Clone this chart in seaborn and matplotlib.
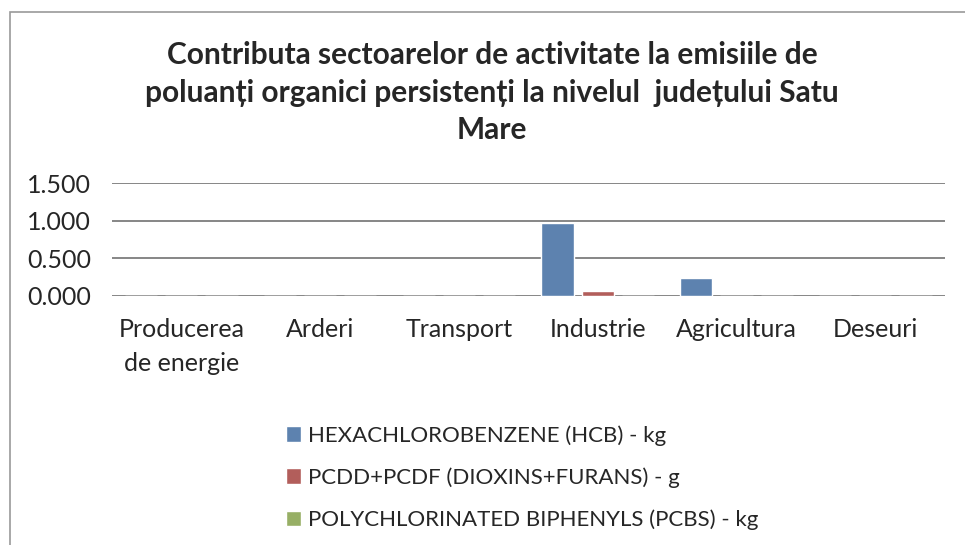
import pandas as pd
import matplotlib
matplotlib.use("Agg")
import matplotlib.pyplot as plt
import seaborn as sns
from matplotlib.patches import Rectangle

# date
sectoare = ["Producerea\nde energie", "Arderi", "Transport", "Industrie", "Agricultura", "Deseuri"]
hcb = [0.0, 0.0, 0.0, 0.97, 0.24, 0.0]
pcdd = [0.0, 0.0, 0.0, 0.06, 0.0, 0.0]
pcbs = [0.0, 0.0, 0.0, 0.0, 0.0, 0.0]
serii = ["HEXACHLOROBENZENE (HCB) - kg", "PCDD+PCDF (DIOXINS+FURANS) - g",
         "POLYCHLORINATED BIPHENYLS (PCBS) - kg"]
culori = ["#4F81BD", "#C0504D", "#9BBB59"]
yticks = [0.0, 0.5, 1.0, 1.5]

rows = []
for serie, vals in zip(serii, [hcb, pcdd, pcbs]):
    for s, v in zip(sectoare, vals):
        rows.append({"sector": s, "serie": serie, "valoare": v})
data = pd.DataFrame(rows)

sns.set_style("white")
plt.rcParams["font.family"] = ["Lato", "DejaVu Sans"]

fig = plt.figure(figsize=(9.65, 5.45), dpi=100)
ax = fig.add_axes([0.116, 0.457, 0.863, 0.207])

sns.barplot(data=data, x="sector", y="valoare", hue="serie", palette=culori,
            width=0.87, gap=0.2, ax=ax, legend=True)

ax.set_ylim(0, 1.5)
ax.set_yticks(yticks)
ax.set_yticklabels([f"{t:.3f}" for t in yticks], fontsize=18)
ax.set_xlim(-0.5, 5.5)
ax.grid(axis="y", color="#868686", linewidth=1.4)
ax.set_axisbelow(True)
for sp in ax.spines.values():
    sp.set_visible(False)
ax.tick_params(axis="both", length=0)
ax.tick_params(axis="x", pad=16, labelsize=18)
ax.tick_params(axis="y", pad=15)
for lab in ax.get_xticklabels():
    lab.set_linespacing(1.55)
    lab.set_verticalalignment("top")
ax.set_xlabel("")
ax.set_ylabel("")

handles, labels = ax.get_legend_handles_labels()
ax.get_legend().remove()
fig.legend(handles, labels, loc="upper left", bbox_to_anchor=(0.287, 0.236),
           frameon=False, fontsize=16, handlelength=0.7, handleheight=0.7,
           handletextpad=0.3, labelspacing=0.97, borderaxespad=0)

fig.text(0.51, 0.925,
         "Contributa sectoarelor de activitate la emisiile de\n"
         "poluanți organici persistenți la nivelul  județului Satu\nMare",
         ha="center", va="top", fontsize=21.5, fontweight="bold", linespacing=1.42)

# chenarul graficului
fig.patches.append(Rectangle((0.0105, -0.1), 1.2, 1.078, transform=fig.transFigure,
                             fill=False, edgecolor="#9a9a9a", linewidth=1.2))

fig.savefig("out.png", dpi=100)
